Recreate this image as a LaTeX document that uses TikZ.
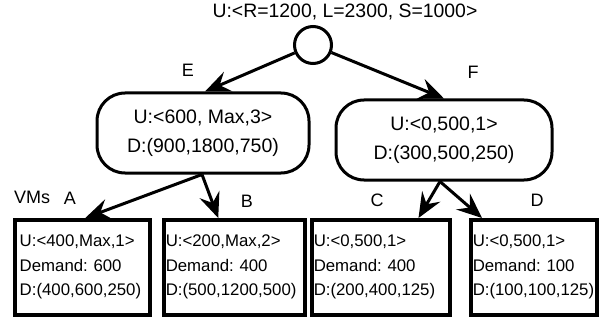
\documentclass[tikz,border=0pt]{standalone}
\usepackage{fontspec}
\setmainfont{Liberation Sans}
\usetikzlibrary{arrows.meta,positioning}
\frenchspacing

\begin{document}
\begin{tikzpicture}[x=1pt, y=-1pt,
  hub/.style={draw, circle, line width=3pt, minimum size=37pt, inner sep=0pt},
  pool/.style={draw, rounded corners=28pt, line width=3pt, align=center, minimum height=80pt, font=\fontsize{19.5}{29}\selectfont},
  vm/.style={draw, line width=3.5pt, align=left, anchor=north west, inner xsep=2pt, text width=#1, minimum height=95pt, font=\fontsize{16.8}{24.5}\selectfont},
  lbl/.style={font=\fontsize{18}{20}\selectfont},
  arrow/.style={-{Stealth[length=25pt, width=21pt, inset=9pt]}, line width=3pt}
]
\useasboundingbox (0,0) rectangle (606,321);

% root of the tree
\node[hub] (root) at (313,45) {};
\node[anchor=base, font=\fontsize{19.4}{22}\selectfont] (rootLbl) at (345,18) {U:<R=1200, L=2300, S=1000>};

% middle level
\node[pool, minimum width=212pt] (eBox) at (203,133) {U:<600, Max,3>\\D:(900,1800,750)};
\node[pool, minimum width=216pt] (fBox) at (444,140) {U:<0,500,1>\\D:(300,500,250)};
\node[lbl] (eLbl) at (188,70) {E};
\node[lbl] (fLbl) at (473,72) {F};

% VMs
\node[vm=125pt, inner xsep=5pt] (aBox) at (13,218) {U:<400,Max,1>\\Demand: 600\\D:(400,600,250)};
\node[vm=137pt] (bBox) at (162,218) {U:<200,Max,2>\\Demand: 400\\D:(500,1200,500)};
\node[vm=134pt] (cBox) at (310,218) {U:<0,500,1>\\Demand: 400\\D:(200,400,125)};
\node[vm=122pt] (dBox) at (469,218) {U:<0,500,1>\\Demand: 100\\D:(100,100,125)};
\node[lbl] (vmsLbl) at (32,197) {VMs};
\node[lbl] (aLbl) at (70,198) {A};
\node[lbl] (bLbl) at (247,201) {B};
\node[lbl] (cLbl) at (377,200) {C};
\node[lbl] (dLbl) at (537,200) {D};

\draw[arrow] (root) -- ([xshift=2pt]eBox.north);
\draw[arrow] (root) -- (fBox.north);
\draw[arrow] ([xshift=-1pt]eBox.south) -- ([xshift=3pt]aBox.north);
\draw[arrow] ([xshift=-1pt]eBox.south) -- ([xshift=-16pt]bBox.north);
\draw[arrow] ([xshift=-4pt]fBox.south) -- ([xshift=-33pt]cBox.north east);
\draw[arrow] ([xshift=-4pt]fBox.south) -- ([xshift=13pt]dBox.north west);
\end{tikzpicture}
\end{document}
